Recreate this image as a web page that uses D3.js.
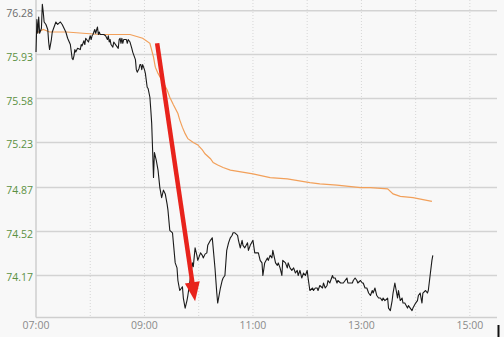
<!DOCTYPE html>
<html>
<head>
<meta charset="utf-8">
<script src="https://cdn.jsdelivr.net/npm/d3@7/dist/d3.min.js"></script>
<style>
  html, body { margin: 0; padding: 0; background: #f8f8f8; }
  svg { display: block; }
  text { font-family: "Open Sans", "Noto Sans", sans-serif; }
</style>
</head>
<body>
<svg id="chart" width="504" height="337"></svg>
<script>
// ---- Data (minutes after 07:00, price) ----
const priceMinutes = [0,1,2,3,4,6,7,8,9,11,13,14,15,17,18,19,21,22,24,27,29,31,33,35,38,40,41,42,43,44,46,49,50,51,53,54,55,58,60,61,62,63,65,66,68,69,70,71,73,75,77,79,80,81,82,83,85,86,89,91,92,93,94,95,96,97,100,101,102,104,106,107,108,110,111,112,114,115,116,117,118,120,121,123,124,126,127,128,129,130,131,133,135,137,139,141,143,145,146,148,151,152,154,156,157,159,162,163,165,167,168,170,173,174,176,178,179,182,184,185,187,189,190,193,195,196,198,200,201,204,206,207,209,211,213,215,217,218,220,223,224,226,228,229,231,234,235,237,240,242,246,248,250,251,253,256,257,259,261,262,265,267,268,270,272,273,276,278,279,281,283,285,287,289,290,292,294,296,298,300,301,303,306,307,309,311,312,314,317,318,320,322,323,325,328,329,331,333,334,337,339,340,342,344,345,348,350,351,353,355,356,359,361,362,364,366,368,370,372,373,375,377,379,381,383,384,386,389,390,392,394,395,397,400,401,403,405,406,408,411,412,414,416,417,420,422,423,425,427,428,431,433,434,436,438,439];
const priceValues = [75.95,76.21,76.10,76.23,76.10,76.14,76.33,76.27,76.19,76.17,76.13,76.03,75.97,76.05,76.11,76.13,76.17,76.19,76.17,76.19,76.17,76.14,76.11,76.06,76.01,75.90,75.89,75.92,75.97,75.95,75.98,75.97,76.01,76.00,76.04,76.01,76.06,76.03,76.08,76.05,76.08,76.09,76.13,76.10,76.15,76.09,76.11,76.09,76.09,76.09,76.08,76.05,76.08,76.03,76.05,76.01,75.99,76.03,76.00,75.98,76.05,76.06,76.02,76.06,76.02,76.05,76.05,76.02,76.05,76.03,75.98,75.95,75.93,75.89,75.81,75.79,75.82,75.85,75.85,75.81,75.85,75.81,75.78,75.67,75.66,75.59,75.49,75.38,75.17,74.95,75.15,75.09,75.01,74.87,74.79,74.85,74.82,74.74,74.69,74.53,74.51,74.43,74.27,74.23,74.13,74.05,74.08,73.99,73.91,73.97,74.01,74.11,74.27,74.24,74.39,74.33,74.29,74.35,74.33,74.31,74.34,74.35,74.41,74.45,74.47,74.39,74.23,74.03,73.95,74.07,74.13,74.15,74.17,74.37,74.43,74.47,74.49,74.51,74.51,74.49,74.45,74.39,74.45,74.41,74.39,74.43,74.37,74.41,74.45,74.35,74.35,74.29,74.27,74.17,74.27,74.31,74.29,74.33,74.31,74.37,74.27,74.25,74.27,74.23,74.17,74.29,74.27,74.23,74.27,74.23,74.21,74.23,74.19,74.21,74.17,74.21,74.15,74.19,74.17,74.21,74.15,74.05,74.07,74.05,74.07,74.07,74.05,74.09,74.07,74.11,74.07,74.09,74.13,74.11,74.17,74.15,74.15,74.11,74.13,74.11,74.11,74.11,74.13,74.15,74.11,74.11,74.11,74.13,74.15,74.13,74.11,74.13,74.11,74.11,74.07,74.07,74.03,74.01,74.05,74.03,74.07,74.01,73.99,73.99,73.97,73.99,73.97,73.99,73.91,73.89,73.97,74.03,74.11,73.99,74.05,73.97,73.99,73.95,73.95,73.91,73.93,73.91,73.89,73.91,73.95,73.97,74.01,74.03,73.95,74.03,74.05,74.03,74.05,74.17,74.29,74.33];

const avgMinutes = [0,8,15,34,52,71,90,104,118,126,130,132,135,139,145,148,152,157,159,162,165,168,174,179,184,187,193,196,201,207,215,240,259,278,303,314,333,359,370,389,395,403,417,438];
const avgValues  = [76.10,76.13,76.11,76.11,76.10,76.09,76.09,76.09,76.06,76.02,75.91,75.83,75.78,75.73,75.65,75.59,75.53,75.46,75.41,75.35,75.30,75.26,75.23,75.21,75.17,75.14,75.10,75.07,75.05,75.03,75.01,74.98,74.95,74.94,74.91,74.90,74.89,74.87,74.87,74.86,74.82,74.80,74.79,74.76];

const yTickValues = [74.17, 74.52, 74.87, 75.23, 75.58, 75.93, 76.28];
const yTickLabels = ["74.17", "74.52", "74.87", "75.23", "75.58", "75.93", "76.28"];
const xGridMinutes = [60, 120, 180, 240, 300, 360, 420, 480];
const xTickMinutes = [0, 120, 240, 360, 480];
const xTickLabels = ["07:00", "09:00", "11:00", "13:00", "15:00"];

// arrow annotation (minute, price): start and tip
const arrowStart = [134, 76.02];
const arrowTip = [176, 73.965];

(function () {
  const svg = d3.select("#chart");
  const W = 504, H = 337;
  const mLeft = 36, mRight = 497, mTop = 0, mBottom = 317.5;

  const x = d3.scaleLinear().domain([0, 510]).range([mLeft, mRight]);
  const y = d3.scaleLinear().domain([73.835, 76.365]).range([mBottom, mTop]);

  svg.append("rect").attr("width", W).attr("height", H).attr("fill", "#f8f8f8");

  // vertical dotted hourly grid
  svg.append("g").selectAll("line").data(xGridMinutes).join("line")
    .attr("x1", d => x(d)).attr("x2", d => x(d))
    .attr("y1", mTop).attr("y2", mBottom)
    .attr("stroke", "#d6d6d6").attr("stroke-width", 1)
    .attr("stroke-dasharray", "1,2");

  // horizontal grid
  svg.append("g").selectAll("line").data(yTickValues).join("line")
    .attr("x1", mLeft).attr("x2", mRight)
    .attr("y1", d => y(d)).attr("y2", d => y(d))
    .attr("stroke", "#d3d3d3").attr("stroke-width", 1.5);

  // axis lines
  svg.append("line").attr("x1", mLeft).attr("x2", mLeft).attr("y1", mTop).attr("y2", mBottom)
    .attr("stroke", "#cfcfcf").attr("stroke-width", 1.5);
  svg.append("line").attr("x1", mLeft).attr("x2", mRight).attr("y1", mBottom).attr("y2", mBottom)
    .attr("stroke", "#cfcfcf").attr("stroke-width", 1.5);

  // y labels (top label gray, others green)
  const topVal = d3.max(yTickValues);
  svg.append("g").selectAll("text").data(yTickValues).join("text")
    .attr("x", mLeft - 3).attr("y", d => y(d) + 6)
    .attr("text-anchor", "end")
    .attr("font-size", 10.5)
    .attr("fill", d => d === topVal ? "#6b6b6b" : "#5b9143")
    .text((d, i) => yTickLabels[i]);

  // x labels
  svg.append("g").selectAll("text").data(xTickMinutes).join("text")
    .attr("x", d => x(d)).attr("y", 329)
    .attr("text-anchor", "middle")
    .attr("font-size", 10.5)
    .attr("fill", "#8a8a8a")
    .text((d, i) => xTickLabels[i]);

  // average line (orange)
  const avgData = avgMinutes.map((m, i) => [m, avgValues[i]]);
  svg.append("path").datum(avgData)
    .attr("fill", "none").attr("stroke", "#f2a05a").attr("stroke-width", 1.2)
    .attr("d", d3.line().x(d => x(d[0])).y(d => y(d[1])));

  // price line (black)
  const priceData = priceMinutes.map((m, i) => [m, priceValues[i]]);
  svg.append("path").datum(priceData)
    .attr("fill", "none").attr("stroke", "#1a1a1a").attr("stroke-width", 1.1)
    .attr("stroke-linejoin", "round")
    .attr("d", d3.line().x(d => x(d[0])).y(d => y(d[1])));

  // red arrow
  const sx = x(arrowStart[0]), sy = y(arrowStart[1]);
  const tx = x(arrowTip[0]), ty = y(arrowTip[1]);
  const len = Math.hypot(tx - sx, ty - sy);
  const ux = (tx - sx) / len, uy = (ty - sy) / len;
  const headLen = 19, headHalf = 7.5;
  const bx = tx - ux * headLen, by = ty - uy * headLen;
  svg.append("line")
    .attr("x1", sx).attr("y1", sy).attr("x2", bx + ux * 2).attr("y2", by + uy * 2)
    .attr("stroke", "#e8231c").attr("stroke-width", 4.5);
  svg.append("polygon")
    .attr("points", [
      [tx, ty],
      [bx - uy * headHalf, by + ux * headHalf],
      [bx + uy * headHalf, by - ux * headHalf]
    ].map(p => p.join(",")).join(" "))
    .attr("fill", "#e8231c");

  // cursor mark at bottom-right
  svg.append("line").attr("x1", 498.5).attr("x2", 498.5).attr("y1", 325).attr("y2", 337)
    .attr("stroke", "#111").attr("stroke-width", 2);
})();
</script>
</body>
</html>
